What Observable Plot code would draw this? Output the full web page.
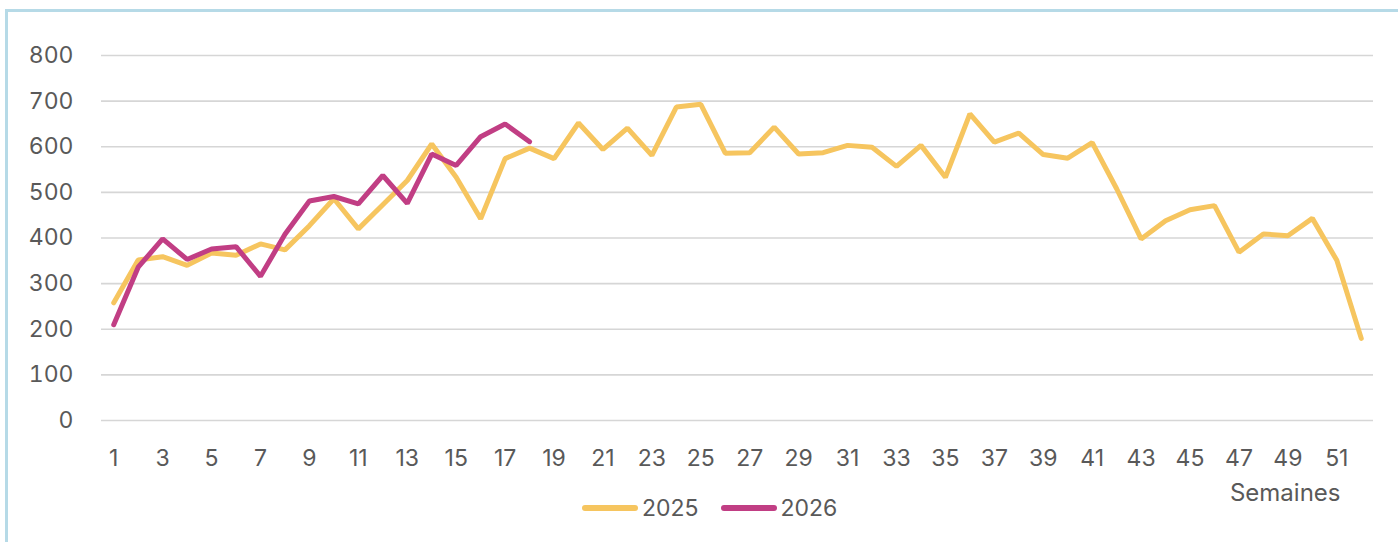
<!DOCTYPE html>
<html>
<head>
<meta charset="utf-8">
<script src="https://cdn.jsdelivr.net/npm/d3@7"></script>
<script src="https://cdn.jsdelivr.net/npm/@observablehq/plot@0.6"></script>
<style>
  html, body { margin: 0; padding: 0; background: #fff; }
  body { width: 1398px; height: 542px; position: relative; overflow: hidden; font-family: Inter, "Open Sans", sans-serif; }
  #frame { position: absolute; left: 5px; top: 9px; width: 1400px; height: 560px; border-top: 3px solid #b6dae7; border-left: 3px solid #b6dae7; box-sizing: border-box; }
  #chart { position: absolute; left: 0; top: 0; }
  #legend { position: absolute; top: 494px; left: 582px; display: flex; align-items: center; font-size: 23px; color: #595959; }
  #legend .item { display: flex; align-items: center; margin-right: 22px; }
  #legend .swatch { width: 56px; height: 6px; border-radius: 3px; margin-right: 4px; }
</style>
</head>
<body>
<div id="frame"></div>
<div id="chart"></div>
<div id="legend"></div>
<script>
const weeks = d3.range(1, 53);
const values2025 = [258, 352, 359, 340, 367, 362, 387, 374, 427, 486, 420, 473, 526, 606, 533, 442, 574, 597, 574, 652, 594, 641, 581, 687, 693, 586, 587, 643, 584, 587, 603, 599, 557, 603, 533, 672, 610, 630, 583, 575, 609, 508, 398, 438, 462, 471, 369, 409, 405, 443, 351, 180];
const values2026 = [210, 336, 398, 353, 376, 381, 316, 408, 481, 491, 475, 537, 476, 584, 559, 622, 650, 611];
const seriesNames = ["2025", "2026"];
const seriesColors = ["#f6c55f", "#c13e84"];
const yTicks = [0, 100, 200, 300, 400, 500, 600, 700, 800];
const xTickLabels = weeks.filter(w => w % 2 === 1);

const data = [
  ...values2025.map((v, i) => ({week: weeks[i], value: v, series: "2025"})),
  ...values2026.map((v, i) => ({week: weeks[i], value: v, series: "2026"}))
];

const chart = Plot.plot({
  width: 1398,
  height: 520,
  marginLeft: 101,
  marginRight: 25,
  marginTop: 55,
  marginBottom: 100,
  style: {background: "transparent", overflow: "visible", fontFamily: "Inter, 'Open Sans', sans-serif", fontSize: "23px", color: "#595959"},
  x: {type: "point", domain: weeks, padding: 0.5, round: false, axis: null},
  y: {domain: [0, 800], axis: null},
  color: {domain: seriesNames, range: seriesColors},
  marks: [
    Plot.gridY(yTicks, {stroke: "#d6d6d6", strokeOpacity: 1, strokeWidth: 1.6}),
    Plot.axisY(yTicks, {tickSize: 0, tickPadding: 28, fontSize: 23, fill: "#595959", label: null}),
    Plot.axisX(xTickLabels, {tickSize: 0, tickPadding: 29, fontSize: 23, fill: "#595959", label: null}),
    Plot.line(data, {x: "week", y: "value", z: "series", stroke: "series", strokeWidth: 5, strokeLinejoin: "miter", strokeLinecap: "round"}),
    Plot.text(["Semaines"], {frameAnchor: "bottom-right", dx: -33, dy: 80, textAnchor: "end", lineAnchor: "bottom", fontSize: 24, fill: "#595959", letterSpacing: "0.5px"})
  ]
});
document.getElementById("chart").appendChild(chart);

const legend = document.getElementById("legend");
seriesNames.forEach((name, i) => {
  const item = document.createElement("div");
  item.className = "item";
  const sw = document.createElement("div");
  sw.className = "swatch";
  sw.style.background = seriesColors[i];
  const label = document.createElement("span");
  label.textContent = name;
  item.appendChild(sw);
  item.appendChild(label);
  legend.appendChild(item);
});
</script>
</body>
</html>
